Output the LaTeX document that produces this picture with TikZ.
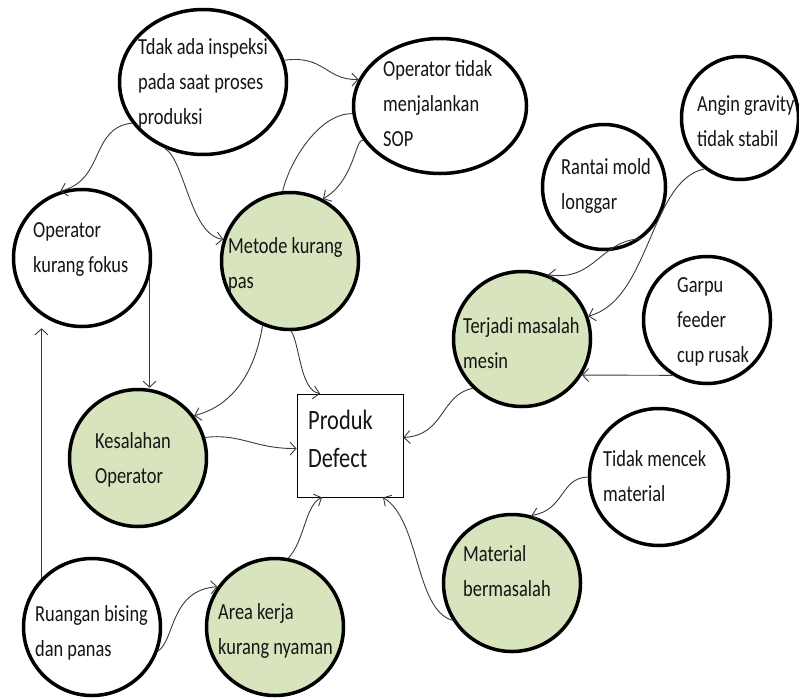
\documentclass[tikz,border=0pt]{standalone}
\usepackage{fontspec}
\setmainfont{Carlito}[FakeStretch=0.8]
\usetikzlibrary{shapes.geometric, arrows.meta}
\definecolor{leaf}{HTML}{D7E4BD}
\definecolor{ink}{HTML}{151515}
\definecolor{wire}{HTML}{3A3A3A}

\tikzset{
  bub/.style={ellipse, draw=black, line width=3.5pt, inner sep=0pt},
  sebab/.style={bub, fill=white},
  akar/.style={bub, fill=leaf},
  txt/.style={anchor=west, align=left, inner sep=0pt, text=ink,
    font=\fontsize{23pt}{35pt}\selectfont},
  conn/.style={draw=wire, line width=0.9pt, -{Straight Barb[length=6pt,width=13pt]}},
}

\begin{document}
\begin{tikzpicture}[x=1pt, y=-1pt]
    \useasboundingbox (0,0) rectangle (799,699);

    % lingkaran sebab
    \node[sebab, minimum width=167, minimum height=145] (insp) at (203,82) {};
    \node[sebab, minimum width=173, minimum height=135] (sop) at (440,106) {};
    \node[sebab, minimum width=137, minimum height=137] (fokus) at (82,258) {};
    \node[akar, minimum width=137, minimum height=137] (metode) at (290,261) {};
    \node[sebab, minimum width=123, minimum height=125] (rantai) at (604,187) {};
    \node[sebab, minimum width=117, minimum height=123] (angin) at (740,118) {};
    \node[akar, minimum width=137, minimum height=135] (mesin) at (522,339) {};
    \node[sebab, minimum width=127, minimum height=127] (garpu) at (707,320) {};
    \node[akar, minimum width=137, minimum height=137] (salah) at (138,458) {};
    \node[sebab, minimum width=137, minimum height=137] (bising) at (92,627) {};
    \node[akar, minimum width=137, minimum height=137] (area) at (275,627) {};
    \node[sebab, minimum width=139, minimum height=137] (cek) at (659,477) {};
    \node[akar, minimum width=137, minimum height=137] (material) at (512,583) {};
    % kotak akibat
    \node[draw=black, line width=0.8pt, fill=white, minimum width=106, minimum height=103,
      inner sep=0pt] (defect) at (350,445.5) {};

    % teks
    \node[txt] (insp-t) at (138,83) {Tdak ada inspeksi\\pada saat proses\\produksi};
    \node[txt] (sop-t) at (383,104) {Operator tidak\\menjalankan\\SOP};
    \node[txt] (fokus-t) at (33,250) {Operator\\kurang fokus};
    \node[txt] (metode-t) at (228,265) {Metode kurang\\pas};
    \node[txt] (rantai-t) at (561,186) {Rantai mold\\longgar};
    \node[txt] (angin-t) at (697,121) {Angin gravity\\tidak stabil};
    \node[txt] (mesin-t) at (463,343) {Terjadi masalah\\mesin};
    \node[txt] (garpu-t) at (677,322) {Garpu\\feeder\\cup rusak};
    \node[txt] (salah-t) at (95,460) {Kesalahan\\Operator};
    \node[txt] (bising-t) at (35,633) {Ruangan bising\\dan panas};
    \node[txt] (area-t) at (218,631) {Area kerja\\kurang nyaman};
    \node[txt] (cek-t) at (603,476) {Tidak mencek\\material};
    \node[txt] (material-t) at (463,571) {Material\\bermasalah};
    \node[txt, font=\fontsize{28pt}{38pt}\selectfont] (defect-t) at (308,439) {Produk\\Defect};

    % panah
    \draw[conn] (insp.15) .. controls (325,55) and (325,80) .. (sop.162);
    \draw[conn] (insp.210) .. controls (90,128) and (105,180) .. (fokus.108);
    \draw[conn] (insp.240) .. controls (185,160) and (190,235) .. (metode.162);
    \draw[draw=wire, line width=0.9pt] (sop.185) .. controls (320,113) and (290,160) .. (metode.96);
    \draw[conn] (sop.204) .. controls (355,138) and (355,180) .. (metode.62);
    \draw[conn] (fokus.-16) -- (fokus.-16 |- salah.north);
    \draw[conn] (bising.136) -- (bising.136 |- fokus.south);
    \draw[conn] (bising.-20) .. controls (175,640) and (170,590) .. (area.145);
    \draw[conn] (area.79) .. controls (305,540) and (305,505) .. ([xshift=-28pt]defect.south);
    \draw[conn] (salah.17) .. controls (240,433) and (255,449) .. ([yshift=-3pt]defect.west);
    \draw[conn] (metode.247) .. controls (255,370) and (235,405) .. (salah.37);
    \draw[conn] (metode.-89) .. controls (300,345) and (300,390) .. ([xshift=-30pt]defect.north);
    \draw[conn] (mesin.225) .. controls (440,395) and (445,435) .. ([yshift=8pt]defect.east);
    \draw[conn] (material.212) .. controls (415,610) and (420,520) .. ([xshift=33pt]defect.south);
    \draw[conn] (cek.180) .. controls (560,478) and (565,510) .. (material.74);
    \draw[conn] (garpu.-122) -- (mesin.-31);
    \draw[conn] (rantai.-54) .. controls (600,240) and (595,282) .. (mesin.68);
    \draw[conn] (angin.235) .. controls (650,180) and (650,300) .. (mesin.19);
\end{tikzpicture}
\end{document}
